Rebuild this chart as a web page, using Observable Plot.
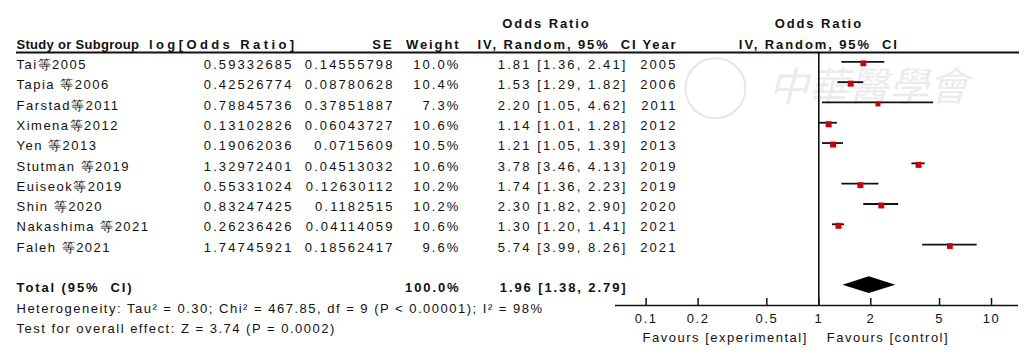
<!DOCTYPE html>
<html><head><meta charset="utf-8">
<script src="https://cdn.jsdelivr.net/npm/d3@7"></script>
<script src="https://cdn.jsdelivr.net/npm/@observablehq/plot@0.6"></script>
<style>
body{margin:0;background:#fff;}
#chart svg{display:block;}
#chart g[aria-description="txt"] text{letter-spacing:1.5px;}
#chart g[aria-description="num"] text{letter-spacing:2.1px;}
#chart g[aria-description="bold"] text{letter-spacing:1.9px;}
#chart g[aria-description="wide"] text{letter-spacing:3.4px;}
#chart g[aria-description="compact"] text{letter-spacing:0.3px;}
</style></head><body><div id="chart"></div>
<script>
// ---------- data ----------
const studies = ["Tai等2005","Tapia 等2006","Farstad等2011","Ximena等2012","Yen 等2013","Stutman 等2019","Euiseok等2019","Shin 等2020","Nakashima 等2021","Faleh 等2021"];
const logOR = [0.59332685,0.42526774,0.78845736,0.13102826,0.19062036,1.32972401,0.55331024,0.83247425,0.26236426,1.74745921];
const se = [0.14555798,0.08780628,0.37851887,0.06043727,0.0715609,0.04513032,0.12630112,0.1182515,0.04114059,0.18562417];
const weights = [10.0,10.4,7.3,10.6,10.5,10.6,10.2,10.2,10.6,9.6];
const orEst = [1.81,1.53,2.20,1.14,1.21,3.78,1.74,2.30,1.30,5.74];
const orLo  = [1.36,1.29,1.05,1.01,1.05,3.46,1.36,1.82,1.20,3.99];
const orHi  = [2.41,1.82,4.62,1.28,1.39,4.13,2.23,2.90,1.41,8.26];
const years = [2005,2006,2011,2012,2013,2019,2019,2020,2021,2021];
const totalLabel = "Total (95%  CI)";
const totalWeight = 100.0, totalOR = 1.96, totalLo = 1.38, totalHi = 2.79;
const xTicks = [0.1,0.2,0.5,1,2,5,10];
const headerTop = "Odds Ratio";
const headerCI = "IV, Random, 95%  CI";
const colHeaders = ["Study or Subgroup","log[Odds Ratio]","SE","Weight","Year"];
const heterogeneityText = "Heterogeneity: Tau² = 0.30; Chi² = 467.85, df = 9 (P < 0.00001); I² = 98%";
const overallText = "Test for overall effect: Z = 3.74 (P = 0.0002)";
const favourLeft = "Favours [experimental]", favourRight = "Favours [control]";
const watermark = "中華醫學會";

// ---------- layout ----------
const W = 1027, H = 355, mL = 615, mR = 9, mT = 52, mB = 50;
const colName = 16, colLog = 293, colSE = 394, colW = 460, colCI = 627, colYear = 677, colHeadCI = 637, colHeadTop = 546;
const rowH1 = -2, rowH2 = -1, rowTotal = 11, rowHet = 12, rowOverall = 13, rowFav = 13.45, rowTicks = 12.52;
const yTop = -0.46, yBottom = 12;
const fmtCI = (e,l,h) => `${e.toFixed(2)} [${l.toFixed(2)}, ${h.toFixed(2)}]`;

const rows = studies.map((s,i) => ({
  name: s, logOR: logOR[i], se: se[i], w: weights[i],
  or: orEst[i], lo: orLo[i], hi: orHi[i], year: years[i], row: i
}));
const dh = 0.41;
const diamond = [
  {y: rowTotal - dh, x1: totalOR, x2: totalOR},
  {y: rowTotal, x1: totalLo, x2: totalHi},
  {y: rowTotal + dh, x1: totalOR, x2: totalOR}
];

const txt = {fontSize: 13, dy: 3, fill: "#111"};
const B = {fontWeight: "bold", ariaDescription: "bold"};
const N = {ariaDescription: "num"};
const T = {ariaDescription: "txt"};
const leftText = (data, col, opts) => Plot.text(data, {frameAnchor: "left", dx: col - mL, ...txt, ...opts});

const chart = Plot.plot({
  width: W, height: H,
  marginLeft: mL, marginRight: mR, marginTop: mT, marginBottom: mB,
  style: {fontFamily: "'Liberation Sans', Arial, sans-serif", fontSize: "13px", color: "#111", background: "#fff"},
  x: {type: "log", domain: [0.0665, 14.33], axis: null},
  y: {domain: [yTop, yBottom], reverse: true, axis: null},
  r: {type: "sqrt", domain: [0, 10.6], range: [0, 3.4]},
  marks: [
    // watermark
    Plot.text([watermark], {x: 1.94, y: 1.3, fontSize: 40, fontStyle: "italic", fill: "#e3e3e3", fillOpacity: 0.7, fontFamily: "'Noto Sans CJK TC', sans-serif"}),
    Plot.dot([0], {x: 0.252, y: 1.3, r: 30, stroke: "#e6e6e6", strokeWidth: 2, fill: "none"}),
    // headers
    leftText([headerTop], colHeadTop, {y: rowH1, textAnchor: "middle", ...B}),
    Plot.text([headerTop], {x: 1, y: rowH1, ...txt, textAnchor: "middle", ...B}),
    Plot.text([headerCI], {x: 1, y: rowH2, ...txt, textAnchor: "middle", ...B}),
    leftText([colHeaders[0]], colName, {y: rowH2, textAnchor: "start", fontWeight: "bold", ariaDescription: "compact"}),
    leftText([colHeaders[1]], colLog + 4, {y: rowH2, textAnchor: "end", fontWeight: "bold", ariaDescription: "wide"}),
    leftText([colHeaders[2]], colSE - 1, {y: rowH2, textAnchor: "end", ...B}),
    leftText([colHeaders[3]], colW, {y: rowH2, textAnchor: "end", ...B}),
    leftText([headerCI], colHeadCI, {y: rowH2, textAnchor: "end", ...B}),
    leftText([colHeaders[4]], colYear, {y: rowH2, textAnchor: "end", ...B}),
    Plot.ruleY([yTop], {insetLeft: colName - mL, insetRight: -1, stroke: "#111", strokeWidth: 2}),
    // study rows
    leftText(rows, colName, {y: "row", text: "name", textAnchor: "start", ...T}),
    leftText(rows, colLog, {y: "row", text: d => String(d.logOR), textAnchor: "end", ...N}),
    leftText(rows, colSE, {y: "row", text: d => String(d.se), textAnchor: "end", ...N}),
    leftText(rows, colW, {y: "row", text: d => d.w.toFixed(1) + "%", textAnchor: "end", ...N}),
    leftText(rows, colCI, {y: "row", text: d => fmtCI(d.or, d.lo, d.hi), textAnchor: "end", ...N}),
    leftText(rows, colYear, {y: "row", text: d => String(d.year), textAnchor: "end", ...N}),
    // total
    leftText([totalLabel], colName, {y: rowTotal, textAnchor: "start", ...B}),
    leftText([totalWeight.toFixed(1) + "%"], colW, {y: rowTotal, textAnchor: "end", ...B}),
    leftText([fmtCI(totalOR, totalLo, totalHi)], colCI, {y: rowTotal, textAnchor: "end", ...B}),
    // footer
    leftText([heterogeneityText], colName, {y: rowHet, textAnchor: "start", ...T}),
    leftText([overallText], colName, {y: rowOverall, textAnchor: "start", ...T}),
    Plot.text([favourLeft], {x: 1, y: rowFav, ...txt, textAnchor: "end", dx: -11, ...T}),
    Plot.text([favourRight], {x: 1, y: rowFav, ...txt, textAnchor: "start", dx: 8, ...T}),
    // forest
    Plot.ruleX([1], {stroke: "#000", strokeWidth: 1.5}),
    Plot.ruleY(rows, {y: "row", x1: "lo", x2: "hi", stroke: "#111", strokeWidth: 1.8}),
    Plot.dot(rows, {x: "or", y: "row", r: "w", symbol: "square", fill: "#cc0000", dy: 1.5}),
    Plot.areaX(diamond, {y: "y", x1: "x1", x2: "x2", fill: "#000", curve: "linear"}),
    // axis
    Plot.ruleY([yBottom], {stroke: "#111", strokeWidth: 1.5}),
    Plot.tickX(xTicks, {x: d => d, insetTop: (H - mT - mB) - 7, insetBottom: -1, stroke: "#111", strokeWidth: 1.5}),
    Plot.text(xTicks, {x: d => d, y: rowTicks, text: d => String(d), ...txt, textAnchor: "middle", ...T})
  ]
});
document.getElementById("chart").appendChild(chart);
</script></body></html>
